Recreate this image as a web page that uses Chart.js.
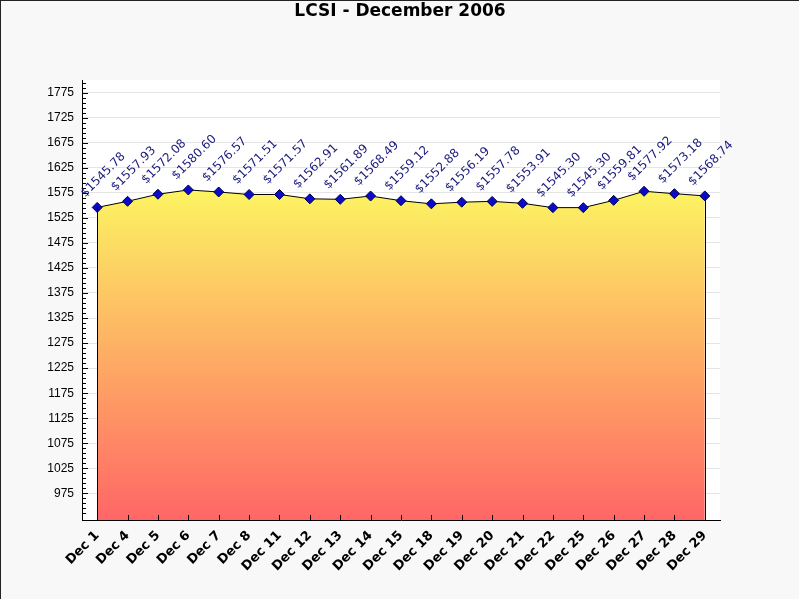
<!DOCTYPE html>
<html>
<head>
<meta charset="utf-8">
<script src="https://cdn.jsdelivr.net/npm/chart.js@4"></script>
<style>
  html, body { margin: 0; padding: 0; background: #f8f8f8; }
  #wrap { width: 800px; height: 600px; }
</style>
</head>
<body>
<div id="wrap"><canvas id="chart" width="800" height="600"></canvas></div>
<script>
// Data
const days = ['Dec 1', 'Dec 4', 'Dec 5', 'Dec 6', 'Dec 7', 'Dec 8', 'Dec 11', 'Dec 12', 'Dec 13', 'Dec 14',
    'Dec 15', 'Dec 18', 'Dec 19', 'Dec 20', 'Dec 21', 'Dec 22', 'Dec 25', 'Dec 26', 'Dec 27', 'Dec 28', 'Dec 29'];
const closes = [1545.78, 1557.93, 1572.08, 1580.60, 1576.57, 1571.51, 1571.57, 1562.91, 1561.89, 1568.49,
    1559.12, 1552.88, 1556.19, 1557.78, 1553.91, 1545.30, 1545.30, 1559.81, 1577.92, 1573.18, 1568.74];
const yTicks = [975, 1025, 1075, 1125, 1175, 1225, 1275, 1325, 1375, 1425, 1475, 1525, 1575, 1625, 1675, 1725, 1775];
const yMin = 922;
const yMax = 1800;
const chartTitle = 'LCSI - December 2006';

// Gradient under the line
function areaFill(context) {
    const chart = context.chart;
    const area = chart.chartArea;
    if (!area) return '#ffcc66';
    const y = chart.scales.y;
    const top = y.getPixelForValue(Math.max(...closes));
    const g = chart.ctx.createLinearGradient(0, top, 0, area.bottom);
    g.addColorStop(0, '#fcf462');
    g.addColorStop(1, '#ff6666');
    return g;
}

// Background, title, frame
const decorPlugin = {
    id: 'decor',
    beforeDraw(chart) {
        const ctx = chart.ctx;
        const a = chart.chartArea;
        ctx.save();
        ctx.fillStyle = '#f8f8f8';
        ctx.fillRect(0, 0, chart.width, chart.height);
        ctx.fillStyle = '#ffffff';
        ctx.fillRect(a.left, a.top, a.right - a.left, a.bottom - a.top);
        ctx.fillStyle = '#000';
        ctx.font = 'bold 17px "DejaVu Sans"';
        ctx.textAlign = 'center';
        ctx.textBaseline = 'middle';
        ctx.fillText(chartTitle, chart.width / 2, 12);
        // frame
        ctx.fillStyle = '#222';
        ctx.fillRect(0, 0, chart.width, 1);
        ctx.fillRect(0, 0, 1, chart.height);
        ctx.fillStyle = '#ffffff';
        ctx.fillRect(0, chart.height - 1, chart.width, 1);
        ctx.fillRect(chart.width - 1, 0, 1, chart.height);
        ctx.restore();
    },
    afterDraw(chart) {
        const ctx = chart.ctx;
        const a = chart.chartArea;
        const x = chart.scales.x;
        const y = chart.scales.y;
        const pts = chart.getDatasetMeta(0).data;
        ctx.save();
        // area edges
        ctx.strokeStyle = '#000';
        ctx.lineWidth = 1;
        ctx.beginPath();
        ctx.moveTo(Math.round(pts[0].x) + 0.5, pts[0].y);
        ctx.lineTo(Math.round(pts[0].x) + 0.5, a.bottom);
        const last = pts[pts.length - 1];
        ctx.moveTo(Math.round(last.x) + 0.5, last.y);
        ctx.lineTo(Math.round(last.x) + 0.5, a.bottom);
        ctx.stroke();
        // y minor/major tick marks (inside)
        ctx.beginPath();
        for (let v = Math.ceil(yMin / 10) * 10 + 5; v <= yMax; v += 10) {
            const py = Math.round(y.getPixelForValue(v)) + 0.5;
            ctx.moveTo(a.left, py);
            ctx.lineTo(a.left + 4, py);
        }
        yTicks.forEach(v => {
            const py = Math.round(y.getPixelForValue(v)) + 0.5;
            ctx.moveTo(a.left, py);
            ctx.lineTo(a.left + 6, py);
        });
        // x tick marks (inside)
        days.forEach((d, i) => {
            const px = Math.round(x.getPixelForValue(i)) + 0.5;
            ctx.moveTo(px, a.bottom);
            ctx.lineTo(px, a.bottom - 5);
        });
        ctx.stroke();
        // point labels
        ctx.fillStyle = '#1a1a7a';
        ctx.font = '12px "DejaVu Sans"';
        ctx.textAlign = 'left';
        ctx.textBaseline = 'alphabetic';
        pts.forEach((p, i) => {
            ctx.save();
            ctx.translate(p.x - 12, p.y - 10);
            ctx.rotate(-Math.PI / 4);
            ctx.fillText('$' + closes[i].toFixed(2), 0, 0);
            ctx.restore();
        });
        ctx.restore();
    }
};

const chart = new Chart(document.getElementById('chart').getContext('2d'), {
    type: 'line',
    data: {
        labels: days,
        datasets: [{
            data: closes,
            borderColor: '#000',
            borderWidth: 1,
            backgroundColor: areaFill,
            fill: 'start',
            tension: 0,
            pointStyle: 'rectRot',
            pointRadius: 5,
            pointBackgroundColor: '#0a0ac8',
            pointBorderColor: '#00004a',
            pointBorderWidth: 1
        }]
    },
    options: {
        responsive: false,
        animation: false,
        layout: { padding: { top: 80, right: 80, left: 0, bottom: 0 } },
        plugins: {
            legend: { display: false },
            title: { display: false },
            tooltip: { enabled: false }
        },
        scales: {
            x: {
                offset: true,
                grid: { display: false },
                border: { display: true, color: '#000', width: 1 },
                ticks: {
                    color: '#000',
                    font: { family: 'DejaVu Sans', size: 13, weight: 'bold' },
                    minRotation: 45,
                    maxRotation: 45,
                    autoSkip: false,
                    padding: 0
                },
                afterFit(scale) { scale.height = 80; }
            },
            y: {
                min: yMin,
                max: yMax,
                z: 1,
                afterBuildTicks(scale) {
                    scale.ticks = yTicks.map(v => ({ value: v }));
                },
                grid: { color: 'rgba(0,0,0,0.1)', drawTicks: false },
                border: { display: true, color: '#000', width: 1 },
                ticks: {
                    color: '#000',
                    font: { family: 'Liberation Sans', size: 12 },
                    padding: 8,
                    callback: v => String(v)
                },
                afterFit(scale) { scale.width = 82; }
            }
        }
    },
    plugins: [decorPlugin]
});
</script>
</body>
</html>
